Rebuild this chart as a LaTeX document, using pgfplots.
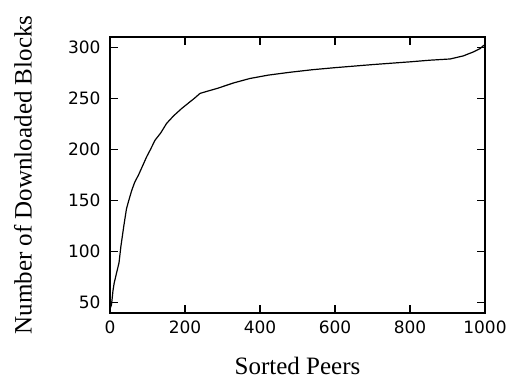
\documentclass[border=0pt]{standalone}
\usepackage{pgfplots}
\pgfplotsset{compat=1.18}
\usepackage{fontspec}
\setmainfont{Liberation Serif}
\newfontfamily\ticksf{DejaVu Sans}
\begin{document}
\begin{tikzpicture}
\begin{axis}[
  scale only axis,
  width=375pt, height=276pt,
  xmin=0, xmax=1000, ymin=40, ymax=310,
  xtick={0,200,400,600,800,1000},
  ytick={50,100,150,200,250,300},
  tick align=inside,
  major tick length=8pt,
  axis line style={line width=1.4pt},
  every tick/.style={line width=1.1pt, black},
  /pgf/number format/assume math mode=true,
  /pgf/number format/1000 sep={},
  tick label style={font=\fontsize{17}{18}\selectfont\ticksf},
  yticklabel style={xshift=-6pt},
  xticklabel style={yshift=-4pt},
  xlabel={Sorted Peers},
  ylabel={Number of Downloaded Blocks},
  label style={font=\fontsize{25}{26}\selectfont},
  xlabel style={at={(axis description cs:0.5,-0.192)},anchor=center},
  ylabel style={at={(axis description cs:-0.232,0.5)},anchor=center},
]
\addplot[black, line width=1.2pt] table {
x y
1 45
4 48
8 62
11 69
18 80
24 89
29 105
34 118
38 128
44 142
50 150
58 160
66 168
76 175
87 184
98 193
108 200
120 209
135 216
151 225.5
170 233
191 240
213 246.5
225 250
240 254.8
260 257
285 259.6
329 265
373 269.4
422 272.7
480 275.5
540 278
600 280
700 283
800 285.7
853 287.3
907 288.5
942 291.5
969 295.4
987 298.7
997 302
};
\end{axis}
\path ([xshift=-110pt,yshift=-66pt]current axis.south west) rectangle ([xshift=34pt,yshift=37pt]current axis.north east);
\end{tikzpicture}
\end{document}
